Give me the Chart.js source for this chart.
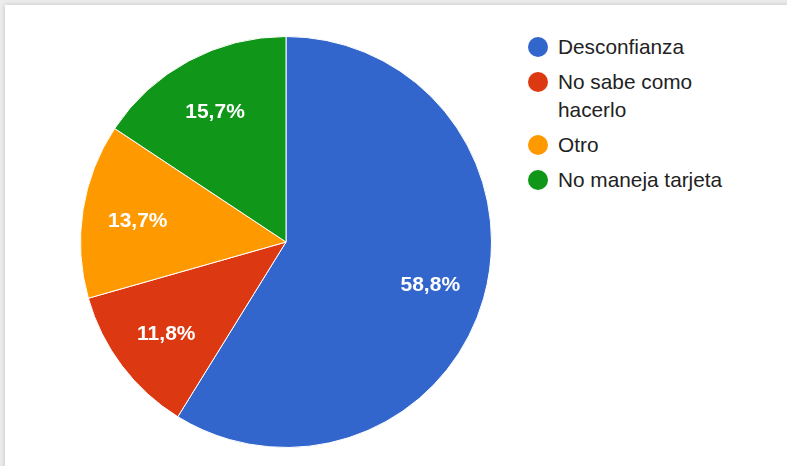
<!DOCTYPE html>
<html>
<head>
<meta charset="utf-8">
<script src="https://cdn.jsdelivr.net/npm/chart.js@4/dist/chart.umd.min.js"></script>
<style>
  html, body { margin: 0; padding: 0; background: #ececec; }
  body { width: 787px; height: 466px; position: relative; overflow: hidden; }
  #panel { position: absolute; left: 5px; top: 5px; width: 800px; height: 480px; background: #fff;
           box-shadow: 0 0 5px rgba(0,0,0,0.18); }
  #wrap { position: absolute; left: 80px; top: 36px; width: 412px; height: 412px; }
  #legend { position: absolute; left: 527px; top: 33px; font-family: "Liberation Sans", Arial, sans-serif;
            font-size: 20.8px; color: #222; }
  .item { position: relative; padding-left: 31px; margin-bottom: 7px; line-height: 28px; width: 190px; }
  .item .dot { position: absolute; left: 1px; top: 4px; width: 20px; height: 20px; border-radius: 50%; }
</style>
</head>
<body>
<div id="panel"></div>
<div id="wrap"><canvas id="chart"></canvas></div>
<div id="legend"></div>
<script>
// Reasons for not paying by card (responses)
const categories = ["Desconfianza", "No sabe como hacerlo", "Otro", "No maneja tarjeta"];
const responses = [30, 6, 7, 8];
const sliceColors = ["#3366cc", "#dc3912", "#ff9900", "#109618"];

// Percent labels drawn inside each slice
const sliceLabels = {
  id: "sliceLabels",
  afterDatasetsDraw(chart) {
    const ctx = chart.ctx;
    const meta = chart.getDatasetMeta(0);
    const data = chart.data.datasets[0].data;
    const total = data.reduce((a, b) => a + b, 0);
    ctx.save();
    ctx.font = "bold 21px 'Liberation Sans', Arial, sans-serif";
    ctx.fillStyle = "#fff";
    ctx.textAlign = "center";
    ctx.textBaseline = "middle";
    meta.data.forEach((arc, i) => {
      const p = arc.getProps(["x", "y", "startAngle", "endAngle", "outerRadius"], true);
      const mid = (p.startAngle + p.endAngle) / 2;
      const r = p.outerRadius * 0.73;
      const pct = (data[i] / total * 100).toFixed(1).replace(".", ",") + "%";
      ctx.fillText(pct, p.x + Math.cos(mid) * r, p.y + Math.sin(mid) * r + 2);
    });
    ctx.restore();
  }
};

new Chart(document.getElementById("chart"), {
  type: "pie",
  data: {
    labels: categories,
    datasets: [{
      data: responses,
      backgroundColor: sliceColors,
      borderColor: "#ffffff",
      borderWidth: 1
    }]
  },
  options: {
    responsive: true,
    maintainAspectRatio: false,
    animation: false,
    layout: { padding: 0 },
    plugins: { legend: { display: false }, tooltip: { enabled: false } }
  },
  plugins: [sliceLabels]
});

// Legend beside the pie
const legend = document.getElementById("legend");
categories.forEach((t, i) => {
  const item = document.createElement("div");
  item.className = "item";
  const dot = document.createElement("span");
  dot.className = "dot";
  dot.style.background = sliceColors[i];
  item.appendChild(dot);
  item.appendChild(document.createTextNode(t));
  legend.appendChild(item);
});
</script>
</body>
</html>
